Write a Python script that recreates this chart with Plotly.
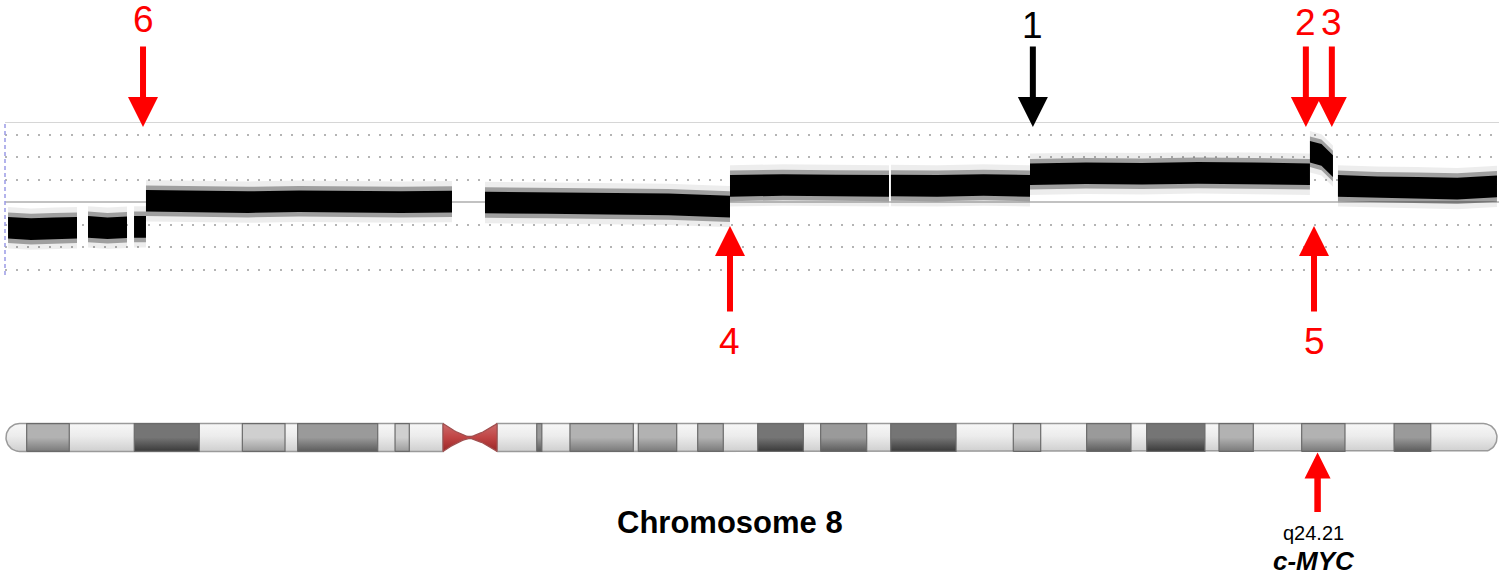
import numpy as np
import plotly.graph_objects as go

W, H = 1499, 576
CHR8_LEN = 146.36  # Mb

# ---------------- copy-number profile (log2 ratio) ----------------
seg_start = [0.2, 8.05, 12.57, 13.74, 47.02, 71.07, 86.87, 100.52, 128.0, 130.75]
seg_end = [6.97, 11.88, 13.74, 43.78, 71.07, 86.68, 100.52, 128.0, 130.26, 146.36]
seg_levels = [
    [-0.57, -0.60, -0.58, -0.57],
    [-0.55, -0.58, -0.56],
    [-0.55, -0.55],
    [0.03, 0.01, 0.00, 0.02, 0.01, 0.00, 0.01],
    [-0.01, -0.02, -0.03, -0.05, -0.10],
    [0.36, 0.38, 0.37, 0.36],
    [0.37, 0.36, 0.38, 0.36],
    [0.62, 0.64, 0.63, 0.65, 0.64, 0.62],
    [1.12, 1.05, 0.80],
    [0.36, 0.33, 0.32, 0.30, 0.35],
]
grid_levels = [-1.5, -1.0, -0.5, 0.5, 1.0, 1.5]
panel_bottom, panel_top = -1.62, 1.78

# ---------------- chromosome 8 ideogram (Mb) ----------------
cen_start, cen_mid, cen_end = 42.9, 45.5, 48.2
band_start = [2.03, 12.59, 23.20, 28.63, 38.19, 52.10, 55.36, 62.07, 67.90, 73.79,
              79.97, 86.85, 98.88, 106.08, 111.97, 119.07, 127.19, 136.26]
band_end = [6.21, 18.97, 27.39, 36.49, 39.59, 52.60, 61.58, 65.84, 70.41, 78.27,
            84.49, 93.26, 101.57, 110.43, 117.69, 122.44, 131.44, 139.86]
band_stain = ["gpos50", "gpos100", "gpos25", "gpos75", "gpos25", "gpos75", "gpos50", "gpos50",
              "gpos50", "gpos100", "gpos75", "gpos100", "gpos25", "gpos75", "gpos100", "gpos50",
              "gpos50", "gpos75"]
stain_colors = {  # bottom, top
    "gpos100": ["#3a3a3a", "#757575"],
    "gpos75": ["#5c5c5c", "#9a9a9a"],
    "gpos50": ["#7a7a7a", "#b2b2b2"],
    "gpos25": ["#9c9c9c", "#cfcfcf"],
}

# ---------------- annotations ----------------
down_labels = ["6", "1", "2", "3"]
down_pos = [13.45, 100.8, 127.6, 130.15]
down_colors = ["#ff0000", "#000000", "#ff0000", "#ff0000"]
down_label_row = [19, 26, 22.5, 22.5]
up_labels = ["4", "5"]
up_pos = [71.07, 128.4]
myc_pos = 128.75
myc_band = "q24.21"
myc_gene = "c-MYC"
chrom_title = "Chromosome 8"

# ---------------- geometry ----------------
L = 5
px_per_mb = 10.187
x0_px = 6
xr = [(L - x0_px) / px_per_mb, (W - x0_px) / px_per_mb]


def row(p):  # pixel row -> paper y
    return 1 - p / H


def col(p):  # pixel column -> paper x
    return (p - L) / (W - L)


fig = go.Figure()

# --- copy-number band (filled ribbons around each segment's level) ---
for half, colr in [(0.46, "rgba(0,0,0,0.07)"), (0.34, "rgba(0,0,0,0.33)"), (0.24, "#000000")]:
    xs, ys = [], []
    for s, e, lv in zip(seg_start, seg_end, seg_levels):
        sx = list(np.linspace(s, e, len(lv)))
        up = [v + half for v in lv]
        lo = [v - half for v in lv]
        xs += sx + sx[::-1] + [sx[0], None]
        ys += up + lo[::-1] + [up[0], None]
    fig.add_trace(go.Scatter(x=xs, y=ys, mode="lines", fill="toself", fillcolor=colr,
                             line=dict(width=0), hoverinfo="skip", showlegend=False, yaxis="y"))

# --- ideogram body ---
rx = 13.5 / px_per_mb
th = np.linspace(np.pi / 2, 3 * np.pi / 2, 30)
p_x = list(rx + rx * np.cos(th)) + [cen_start, cen_start]
p_y = list(0.5 + 0.5 * np.sin(th)) + [0, 1]
th2 = np.linspace(-np.pi / 2, np.pi / 2, 30)
q_x = [cen_end] + list(CHR8_LEN - rx + rx * np.cos(th2)) + [cen_end]
q_y = [0] + list(0.5 + 0.5 * np.sin(th2)) + [1]
body_grad = dict(type="vertical", start=0, stop=1,
                 colorscale=[[0, "#cfcfcf"], [0.55, "#ececec"], [1, "#f7f7f7"]])
for bx, by in [(p_x, p_y), (q_x, q_y)]:
    fig.add_trace(go.Scatter(x=bx + [bx[0]], y=by + [by[0]], mode="lines", fill="toself",
                             fillgradient=body_grad, line=dict(color="#9a9a9a", width=1.5),
                             hoverinfo="skip", showlegend=False, yaxis="y2"))

for s, e, st in zip(band_start, band_end, band_stain):
    cb, ct = stain_colors[st]
    fig.add_trace(go.Scatter(x=[s, e, e, s, s], y=[0, 0, 1, 1, 0], mode="lines", fill="toself",
                             fillgradient=dict(type="vertical", start=0, stop=1,
                                               colorscale=[[0, cb], [0.5, ct], [1, ct]]),
                             line=dict(color="#6a6a6a", width=1.2),
                             hoverinfo="skip", showlegend=False, yaxis="y2"))

# --- centromere (bow-tie) ---
t = np.linspace(0, 1, 15)
halfw = 0.03 + 0.47 * (1 - t) ** 1.4
cx_l = cen_start + (cen_mid - cen_start) * t
cx_r = cen_end - (cen_end - cen_mid) * t
top_x = list(cx_l) + list(cx_r[::-1])
top_y = list(0.5 + halfw) + list((0.5 + halfw)[::-1])
bot_x = top_x[::-1]
bot_y = (list(0.5 - halfw) + list((0.5 - halfw)[::-1]))[::-1]
cen_x = top_x + bot_x + [top_x[0]]
cen_y = top_y + bot_y + [top_y[0]]
fig.add_trace(go.Scatter(x=cen_x, y=cen_y, mode="lines", fill="toself",
                         fillgradient=dict(type="vertical", start=0, stop=1,
                                           colorscale=[[0, "#9a2626"], [0.5, "#c04545"], [1, "#cc6a6a"]]),
                         line=dict(color="#a05050", width=1.2),
                         hoverinfo="skip", showlegend=False, yaxis="y2"))

# --- annotations ---
ann = []
FONT = "Liberation Sans, Arial, sans-serif"
C = dict(xanchor="center", yanchor="middle")
for lab, pos, c, lr in zip(down_labels, down_pos, down_colors, down_label_row):
    ann.append(dict(x=pos, y=row(127), xref="x", yref="paper", ax=0, ay=-82,
                    axref="pixel", ayref="pixel", text="", showarrow=True, arrowhead=2,
                    arrowsize=1, arrowwidth=6, arrowcolor=c, standoff=0))
    ann.append(dict(x=pos, y=row(lr), xref="x", yref="paper", text=lab, showarrow=False,
                    font=dict(family=FONT, size=37, color=c), **C))
for lab, pos in zip(up_labels, up_pos):
    ann.append(dict(x=pos, y=row(226), xref="x", yref="paper", ax=0, ay=87,
                    axref="pixel", ayref="pixel", text="", showarrow=True, arrowhead=2,
                    arrowsize=1, arrowwidth=6, arrowcolor="#ff0000", standoff=0))
    ann.append(dict(x=pos, y=row(341), xref="x", yref="paper", text=lab, showarrow=False,
                    font=dict(family=FONT, size=37, color="#ff0000"), **C))
ann.append(dict(x=myc_pos, y=row(452.5), xref="x", yref="paper", ax=0, ay=61,
                axref="pixel", ayref="pixel", text="", showarrow=True, arrowhead=2,
                arrowsize=0.8, arrowwidth=6.5, arrowcolor="#ff0000", standoff=0))
ann.append(dict(x=myc_pos, y=row(533), xref="x", yref="paper", xshift=-4, text=myc_band,
                showarrow=False, font=dict(family=FONT, size=20, color="#000000"), **C))
ann.append(dict(x=myc_pos, y=row(561), xref="x", yref="paper", xshift=-4,
                text="<b><i>" + myc_gene + "</i></b>", showarrow=False,
                font=dict(family=FONT, size=26, color="#000000"), **C))
ann.append(dict(x=col(730), y=row(522), xref="paper", yref="paper", text="<b>" + chrom_title + "</b>",
                showarrow=False, font=dict(family=FONT, size=31, color="#000000"), **C))

shapes = [
    dict(type="line", xref="paper", yref="y", x0=0, x1=1, y0=panel_top, y1=panel_top,
         line=dict(color="#c8c8c8", width=1.5)),
    dict(type="line", xref="paper", yref="y", x0=0, x1=0, y0=panel_bottom, y1=panel_top,
         line=dict(color="#9a9ae6", width=1.5, dash="4px,3px")),
]

fig.update_layout(
    width=W, height=H, margin=dict(l=L, r=0, t=0, b=0),
    paper_bgcolor="white", plot_bgcolor="rgba(0,0,0,0)",
    showlegend=False, annotations=ann, shapes=shapes,
    xaxis=dict(range=xr, visible=False, fixedrange=True),
    yaxis=dict(domain=[row(275), row(122)], range=[panel_bottom, panel_top],
               tickvals=grid_levels, showticklabels=False, ticks="",
               showgrid=True, gridcolor="#b4b4b4", gridwidth=2, griddash="2px,9px",
               zeroline=True, zerolinecolor="#c2c2c2", zerolinewidth=1.5,
               showline=False, fixedrange=True),
    yaxis2=dict(domain=[row(454.2), row(420.8)], range=[-0.1, 1.1], visible=False,
                anchor="x", fixedrange=True),
)

fig.write_html("out.html")
